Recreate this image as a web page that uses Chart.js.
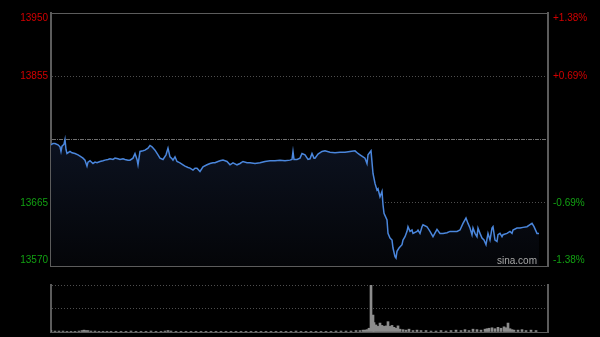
<!DOCTYPE html>
<html>
<head>
<meta charset="utf-8">
<script src="https://cdn.jsdelivr.net/npm/chart.js@4"></script>
<style>
    html, body { margin: 0; padding: 0; background: #000; }
    #wrap { position: relative; width: 600px; height: 337px; overflow: hidden; }
    #priceChart { position: absolute; left: 0; top: 0; }
    #volChart { position: absolute; left: 0; top: 275px; }
</style>
</head>
<body>
<div id="wrap">
    <canvas id="priceChart" width="600" height="270"></canvas>
    <canvas id="volChart" width="600" height="62"></canvas>
</div>
<script>
// previous close and axis labels
const refPrice = 13760;
const priceTicks = [13950, 13855, 13665, 13570];
const priceGrid = [13570, 13665, 13760, 13855, 13950];
const slotCount = 497;

// intraday price, sampled by time slot
const priceSlots = [
    0, 2, 4, 7, 9, 10, 11, 13, 14, 15, 16, 19, 21, 24, 27, 29, 32, 34, 36, 37,
    39, 42, 44, 46, 49, 52, 54, 57, 59, 62, 64, 67, 69, 72, 74, 77, 79, 82, 84, 86,
    87, 89, 92, 94, 97, 99, 101, 104, 107, 109, 112, 115, 117, 119, 121, 122, 124, 126, 129, 132,
    134, 137, 139, 142, 144, 146, 149, 152, 156, 159, 162, 164, 167, 169, 172, 176, 179, 182, 186, 189,
    192, 196, 199, 204, 209, 214, 219, 224, 229, 234, 239, 241, 242, 243, 246, 249, 251, 254, 257, 259,
    261, 263, 264, 267, 271, 274, 279, 284, 289, 294, 299, 304, 307, 309, 312, 314, 316, 317, 320, 322,
    324, 326, 327, 329, 331, 332, 333, 336, 337, 339, 341, 342, 344, 345, 346, 348, 351, 352, 354, 356,
    357, 359, 361, 362, 366, 367, 369, 371, 372, 376, 379, 382, 386, 389, 392, 396, 399, 402, 406, 409,
    412, 415, 417, 419, 421, 422, 424, 426, 427, 429, 431, 433, 435, 437, 439, 441, 442, 444, 446, 447,
    449, 451, 452, 456, 459, 461, 462, 466, 469, 472, 476, 479, 481, 483, 486, 488
];
const prices = [
    13752, 13754, 13754, 13752, 13749, 13742, 13750, 13753, 13760, 13745, 13739, 13742, 13740, 13739, 13737, 13735, 13732, 13729, 13720, 13726,
    13728, 13724, 13726, 13725, 13727, 13728, 13729, 13730, 13731, 13730, 13732, 13731, 13730, 13731, 13730, 13729, 13729, 13732, 13739, 13730,
    13722, 13742, 13743, 13744, 13747, 13751, 13749, 13744, 13737, 13732, 13730, 13737, 13747, 13734, 13731, 13729, 13734, 13727, 13725, 13722,
    13720, 13718, 13717, 13714, 13717, 13717, 13712, 13719, 13722, 13724, 13725, 13725, 13727, 13728, 13729, 13727, 13722, 13725, 13722, 13724,
    13727, 13725, 13725, 13724, 13725, 13727, 13728, 13728, 13729, 13728, 13729, 13730, 13742, 13730, 13730, 13732, 13739, 13737, 13730, 13731,
    13739, 13732, 13732, 13738, 13742, 13743, 13741, 13740, 13741, 13741, 13742, 13743, 13739, 13737, 13734, 13732, 13724, 13737, 13743, 13709,
    13694, 13684, 13686, 13674, 13682, 13662, 13649, 13639, 13619, 13612, 13609, 13597, 13584, 13582, 13592, 13597, 13602, 13609, 13614, 13622,
    13629, 13622, 13624, 13619, 13622, 13624, 13619, 13629, 13632, 13629, 13622, 13614, 13625, 13619, 13619, 13620, 13622, 13622, 13622, 13624,
    13634, 13642, 13634, 13627, 13617, 13627, 13619, 13614, 13627, 13619, 13612, 13609, 13602, 13619, 13609, 13627, 13629, 13609, 13607, 13617,
    13619, 13614, 13617, 13619, 13622, 13619, 13624, 13627, 13627, 13628, 13629, 13632, 13634, 13629, 13619, 13619
];

// volume, relative to the session peak
const volSlots = [
    0, 4, 8, 12, 16, 20, 24, 28, 31, 33, 35, 37, 40, 44, 48, 52, 56, 60, 65, 70,
    75, 80, 85, 90, 95, 100, 105, 110, 114, 117, 120, 125, 130, 135, 140, 145, 150, 155, 160, 165,
    170, 175, 180, 185, 190, 195, 200, 205, 210, 215, 220, 225, 230, 235, 240, 245, 250, 255, 260, 265,
    270, 275, 280, 285, 290, 295, 300, 305, 309, 312, 314, 316, 318, 320, 322, 323, 325, 327, 329, 331,
    333, 335, 337, 339, 341, 343, 345, 347, 349, 352, 355, 358, 362, 366, 370, 375, 380, 385, 390, 395,
    400, 405, 410, 414, 418, 422, 426, 430, 434, 436, 438, 441, 444, 447, 450, 453, 455, 457, 459, 461,
    463, 467, 471, 475, 480, 485
];
const volumes = [
    3, 2, 2, 2, 1.5, 1.5, 1.5, 2, 3, 4, 3, 3, 2, 2, 1.5, 1.5, 1.5, 1.5, 1.5, 1.5,
    1.5, 2, 1.5, 1.5, 1.5, 2, 1.5, 1.5, 2, 3, 2, 1.5, 1.5, 1.5, 1.5, 1.5, 1.5, 1.5, 1.5, 1.5,
    1.5, 1.5, 1.5, 1.5, 1.5, 1.5, 1.5, 1.5, 1.5, 1.5, 1.5, 1.5, 1.5, 1.5, 1.5, 2, 1.5, 1.5, 1.5, 1.5,
    1.5, 1.5, 1.5, 2, 2, 2, 2, 3, 3, 4, 4, 5, 8, 100, 36, 20, 15, 12, 19, 14,
    12, 13, 22, 12, 14, 10, 8, 13, 6, 5, 4, 6, 3, 4, 3, 3, 2, 2, 3, 2,
    3, 4, 3, 5, 3, 6, 5, 4, 6, 7, 8, 9, 7, 10, 8, 11, 9, 19, 7, 5,
    4, 4, 5, 3, 4, 3
];

const frameColor = '#5c5c5c';
const gridColor = '#4e4e4e';
const upColor = '#d20000';
const downColor = '#12a012';
const labelFont = '10px "Liberation Sans", Arial, sans-serif';

const axisLabels = {
    id: 'axisLabels',
    afterDraw(chart) {
        const { ctx, chartArea } = chart;
        const y = chart.scales.y;
        ctx.save();
        ctx.font = labelFont;
        ctx.textBaseline = 'middle';
        priceTicks.forEach(v => {
            let py = y.getPixelForValue(v);
            py = Math.min(Math.max(py, chartArea.top + 5), chartArea.bottom - 6);
            ctx.fillStyle = v > refPrice ? upColor : downColor;
            ctx.textAlign = 'right';
            ctx.fillText(String(v), chartArea.left - 3, py);
            const pct = (v - refPrice) / refPrice * 100;
            ctx.textAlign = 'left';
            ctx.fillText((pct > 0 ? '+' : '') + pct.toFixed(2) + '%', chartArea.right + 5, py);
        });
        ctx.fillStyle = '#a8a8a8';
        ctx.textAlign = 'right';
        ctx.textBaseline = 'alphabetic';
        ctx.fillText('sina.com', chartArea.right - 11, chartArea.bottom - 2);
        ctx.restore();
    }
};

function hiddenX(position) {
    return {
        type: 'linear',
        position: position,
        min: 0,
        max: slotCount,
        offset: false,
        ticks: { display: false },
        grid: { display: false, offset: false },
        border: { display: true, color: frameColor, width: 1 },
        afterFit(s) { s.height = 0; }
    };
}

new Chart(document.getElementById('priceChart'), {
    type: 'line',
    data: {
        datasets: [{
            data: priceSlots.map((s, i) => ({ x: s, y: prices[i] })),
            borderColor: '#4a86dc',
            borderWidth: 1.5,
            pointRadius: 0,
            tension: 0,
            fill: 'start',
            backgroundColor(ctx) {
                const area = ctx.chart.chartArea;
                if (!area) return 'transparent';
                const g = ctx.chart.ctx.createLinearGradient(0, area.top, 0, area.bottom);
                g.addColorStop(0, '#141e36');
                g.addColorStop(0.5, '#0c1220');
                g.addColorStop(1, '#040508');
                return g;
            }
        }]
    },
    options: {
        responsive: false,
        animation: false,
        devicePixelRatio: 1,
        layout: { padding: { top: 13, bottom: 4 } },
        plugins: { legend: { display: false }, tooltip: { enabled: false } },
        scales: {
            x: hiddenX('bottom'),
            xTop: hiddenX('top'),
            y: {
                position: 'left',
                min: 13570,
                max: 13950,
                afterBuildTicks(s) { s.ticks = priceGrid.map(v => ({ value: v })); },
                ticks: { display: false },
                grid: {
                    drawTicks: false,
                    color(ctx) {
                        const v = ctx.tick && ctx.tick.value;
                        if (v === 13570 || v === 13950) return 'transparent';
                        return v === refPrice ? '#707070' : gridColor;
                    }
                },
                border: {
                    color: frameColor,
                    width: 2,
                    dash(ctx) {
                        return ctx.tick && ctx.tick.value === refPrice ? [4, 1, 1, 1] : [1, 2];
                    }
                },
                afterFit(s) { s.width = 51; }
            },
            yRight: {
                position: 'right',
                min: 13570,
                max: 13950,
                ticks: { display: false },
                grid: { display: false },
                border: { color: frameColor, width: 2 },
                afterFit(s) { s.width = 52; }
            }
        }
    },
    plugins: [axisLabels]
});

new Chart(document.getElementById('volChart'), {
    type: 'bar',
    data: {
        datasets: [{
            data: volSlots.map((s, i) => ({ x: s, y: volumes[i] })),
            backgroundColor: '#8c8c8c',
            barThickness: 2
        }]
    },
    options: {
        responsive: false,
        animation: false,
        devicePixelRatio: 1,
        layout: { padding: { top: 10, bottom: 5 } },
        plugins: { legend: { display: false }, tooltip: { enabled: false } },
        scales: {
            x: hiddenX('bottom'),
            y: {
                position: 'left',
                min: 0,
                max: 100,
                afterBuildTicks(s) { s.ticks = [0, 50, 100].map(v => ({ value: v })); },
                ticks: { display: false },
                grid: {
                    drawTicks: false,
                    color(ctx) { return ctx.tick && ctx.tick.value === 0 ? 'transparent' : gridColor; }
                },
                border: { color: frameColor, width: 2, dash: [1, 2] },
                afterFit(s) { s.width = 51; }
            },
            yRight: {
                position: 'right',
                min: 0,
                max: 100,
                ticks: { display: false },
                grid: { display: false },
                border: { color: frameColor, width: 2 },
                afterFit(s) { s.width = 52; }
            }
        }
    }
});
</script>
</body>
</html>
